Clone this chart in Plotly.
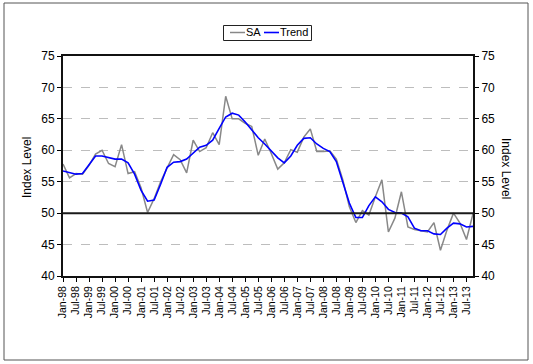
import plotly.graph_objects as go

# ---- data (quarterly, Q1 1998 .. Q4 2013) ----
quarter_index = list(range(64))
sa = [57.8, 55.6, 56.3, 56.2, 57.6, 59.4, 60.0, 57.9, 57.4, 60.9,
      56.3, 56.6, 54.0, 50.1, 52.3, 55.0, 57.2, 59.3, 58.5, 56.4,
      61.6, 59.8, 60.4, 62.8, 60.9, 68.6, 65.0, 65.0, 64.3, 63.8,
      59.2, 61.8, 59.5, 57.0, 58.0, 60.1, 59.7, 62.1, 63.4, 59.8,
      59.8, 59.9, 58.6, 55.3, 51.0, 48.5, 50.4, 49.7, 52.6, 55.3,
      47.0, 49.2, 53.4, 47.8, 47.4, 47.2, 47.0, 48.5, 44.1, 47.3,
      50.0, 48.4, 45.8, 49.9]
trend = [56.7, 56.4, 56.2, 56.3, 57.7, 59.1, 59.1, 58.8, 58.6, 58.6,
         58.0, 56.2, 53.6, 51.9, 52.1, 54.6, 57.3, 58.1, 58.2, 58.6,
         59.5, 60.5, 60.8, 61.6, 63.5, 65.3, 65.9, 65.6, 64.5, 63.2,
         62.0, 61.0, 59.9, 58.8, 58.0, 59.1, 60.8, 61.9, 62.0, 61.0,
         60.3, 59.8, 58.2, 55.0, 51.6, 49.3, 49.3, 51.2, 52.6, 51.8,
         50.6, 50.1, 50.0, 49.4, 47.6, 47.2, 47.2, 46.7, 46.6, 47.6,
         48.4, 48.3, 47.8, 47.9]
tick_text = [f"{m}-{y:02d}" for y in list(range(98, 100)) + list(range(0, 14)) for m in ("Jan", "Jul")]
tick_vals = list(range(0, 64, 2))
y_ticks = [40, 45, 50, 55, 60, 65, 70, 75]

FONT = "Liberation Sans, Arial, sans-serif"
W, H = 533, 364
ML, MR, MT, MB = 63, 60, 56, 88
PW, PH = W - ML - MR, H - MT - MB


def px(x):
    return (x - ML) / PW


def py(y):
    return (H - MB - y) / PH


fig = go.Figure()
fig.add_trace(go.Scatter(x=quarter_index, y=sa, mode="lines", name="SA",
                         line=dict(color="#888888", width=1.5), yaxis="y"))
fig.add_trace(go.Scatter(x=quarter_index, y=trend, mode="lines", name="Trend",
                         line=dict(color="#0000ff", width=1.6), yaxis="y2"))

axis_common = dict(range=[40, 75], tickvals=y_ticks, ticks="outside", ticklen=4,
                   tickcolor="#000", tickwidth=1, showline=True, linecolor="#111",
                   linewidth=2, zeroline=False, automargin=False,
                   tickfont=dict(family=FONT, size=12, color="#000"))

shapes = [
    # 50 reference line
    dict(type="line", xref="paper", yref="y", x0=0, x1=1, y0=50, y1=50,
         line=dict(color="#1a1a1a", width=2)),
    # outer frame
    dict(type="rect", xref="paper", yref="paper", x0=px(4), x1=px(528), y0=py(3), y1=py(360),
         line=dict(color="#555", width=1)),
    # legend box
    dict(type="rect", xref="paper", yref="paper", x0=px(223.5), x1=px(311.5), y0=py(25.5), y1=py(40.5),
         line=dict(color="#222", width=1), fillcolor="white"),
    dict(type="line", xref="paper", yref="paper", x0=px(230), x1=px(245), y0=py(32.5), y1=py(32.5),
         line=dict(color="#888888", width=1.5)),
    dict(type="line", xref="paper", yref="paper", x0=px(264), x1=px(279), y0=py(32.5), y1=py(32.5),
         line=dict(color="#0000ff", width=1.6)),
]

annotations = [
    dict(text="SA", xref="paper", yref="paper", x=px(244), y=py(32.5), xanchor="left", yanchor="middle",
         showarrow=False, font=dict(family=FONT, size=11, color="#000")),
    dict(text="Trend", xref="paper", yref="paper", x=px(278), y=py(32.5), xanchor="left", yanchor="middle",
         showarrow=False, font=dict(family=FONT, size=11, color="#000")),
    dict(text="Index Level", xref="paper", yref="paper", x=px(27), y=py(168), textangle=-90,
         xanchor="center", yanchor="middle", showarrow=False, font=dict(family=FONT, size=12, color="#000")),
    dict(text="Index Level", xref="paper", yref="paper", x=px(506), y=py(168), textangle=90,
         xanchor="center", yanchor="middle", showarrow=False, font=dict(family=FONT, size=12, color="#000")),
]

fig.update_layout(
    width=W, height=H,
    margin=dict(l=ML, r=MR, t=MT, b=MB, pad=0, autoexpand=False),
    paper_bgcolor="white", plot_bgcolor="white",
    showlegend=False,
    font=dict(family=FONT, color="#000"),
    xaxis=dict(range=[0, 63], tickvals=tick_vals, ticktext=tick_text, tickangle=-90,
               ticks="outside", ticklen=4, tickcolor="#000", showline=True, linecolor="#111",
               linewidth=2, mirror=True, showgrid=False, zeroline=False, automargin=False,
               tickfont=dict(family=FONT, size=10.5, color="#000")),
    yaxis=dict(**axis_common, side="left", showgrid=True, gridcolor="#bdbdbd", griddash="dash",
               gridwidth=1),
    yaxis2=dict(**axis_common, side="right", overlaying="y", showgrid=False),
    shapes=shapes,
    annotations=annotations,
)

fig.write_html("out.html", config={"displayModeBar": False},
               post_script="document.body.style.margin='0px';document.body.style.padding='0px';")
